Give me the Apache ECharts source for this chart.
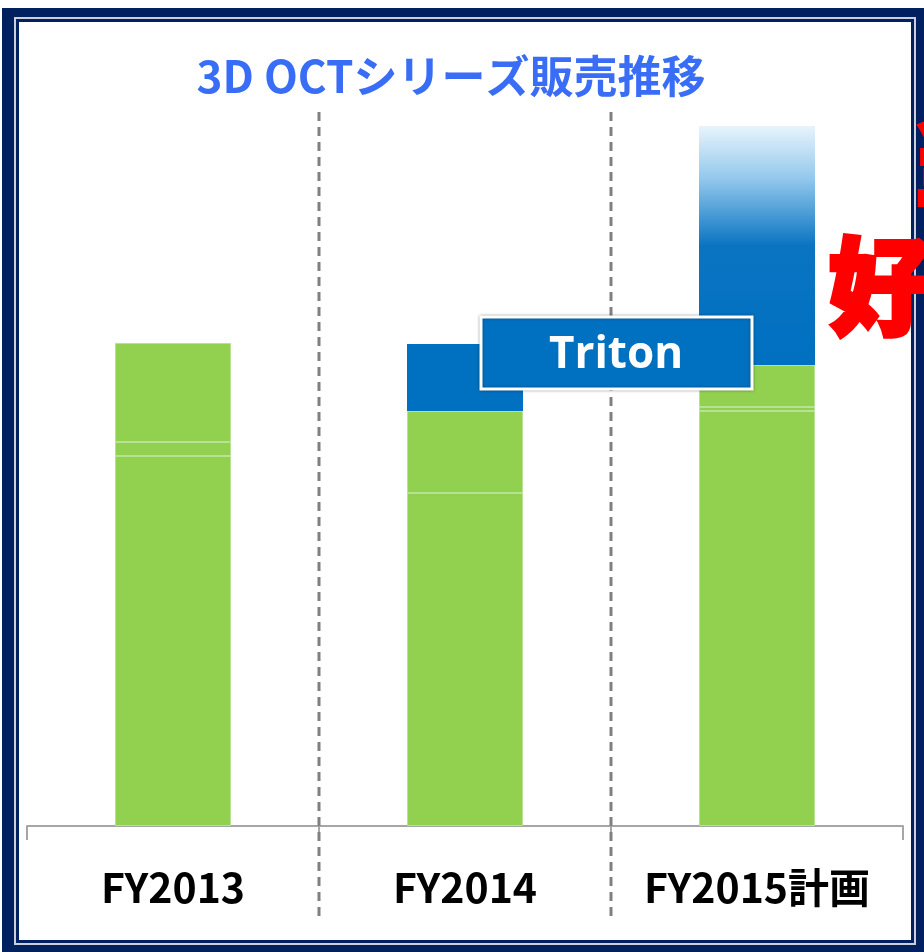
<!DOCTYPE html>
<html><head><meta charset="utf-8">
<script src="https://cdn.jsdelivr.net/npm/echarts@6/dist/echarts.min.js"></script>
<style>html,body{margin:0;padding:0;background:#fff}#c{width:924px;height:952px}</style>
</head><body><div id="c"></div>
<script>
// ---- data ----
const categories = ['FY2013', 'FY2014', 'FY2015計画'];
const greenBase = [370, 333, 415];
const greenMid = [14, 82, 4];
const greenTop = [99, null, 42];
const triton = [null, 67, 243];
const titleText = '3D OCTシリーズ販売推移';
const boxLabel = 'Triton';

const GREEN = '#92d050', GREEN_EDGE = '#b9e193', BLUE = '#0070c0', NAVY = '#002060';
const chart = echarts.init(document.getElementById('c'), null, {renderer: 'canvas'});

const fade = new echarts.graphic.LinearGradient(0, 0, 0, 1, [
  {offset: 0, color: '#e8f4fd'},
  {offset: 0.22, color: '#93c8ec'},
  {offset: 0.5, color: '#0a74c2'},
  {offset: 1, color: BLUE}
]);
const tritonData = triton.map((v, i) => i === 2 ? {value: v, itemStyle: {color: fade}} : v);

function greenSeries(name, data) {
  return {name, type: 'bar', stack: 's', data, barWidth: 116, z: 3,
    itemStyle: {color: GREEN, borderColor: GREEN_EDGE, borderWidth: 1}, silent: true};
}

const frame = [
  {type: 'rect', z: 0, shape: {x: 2, y: 8, width: 960, height: 980}, style: {fill: NAVY}},
  {type: 'rect', z: 0, shape: {x: 14, y: 17, width: 902, height: 928}, style: {fill: '#c9cfdb'}},
  {type: 'rect', z: 0, shape: {x: 16, y: 19, width: 898, height: 924}, style: {fill: NAVY}},
  {type: 'rect', z: 0, shape: {x: 19, y: 22, width: 892, height: 918}, style: {fill: '#ffffff'}}
];

chart.setOption({
  backgroundColor: '#ffffff',
  animation: false,
  grid: {left: 27, right: 21, top: 126, bottom: 126},
  xAxis: {type: 'category', data: categories, boundaryGap: true,
    axisLine: {lineStyle: {color: '#a6a6a6', width: 2}},
    axisTick: {show: true, length: 14, lineStyle: {color: '#a6a6a6', width: 2}},
    axisLabel: {color: '#000', fontSize: 41, fontWeight: 'bold', margin: 41, interval: 0, hideOverlap: false,
      fontFamily: '"Noto Sans CJK JP", "Noto Sans", sans-serif'}},
  yAxis: {type: 'value', min: 0, max: 700, show: false, splitLine: {show: false}},
  series: [
    greenSeries('base', greenBase),
    greenSeries('mid', greenMid),
    greenSeries('top', greenTop),
    {name: 'Triton', type: 'bar', stack: 's', data: tritonData, barWidth: 116, z: 3,
      itemStyle: {color: BLUE}, silent: true}
  ],
  graphic: frame
});

// separators between categories, from the axis scale
const px = categories.map(c => chart.convertToPixel({xAxisIndex: 0}, c));
const seps = [];
for (let i = 0; i < px.length - 1; i++) {
  const x = Math.round((px[i] + px[i + 1]) / 2);
  seps.push({type: 'line', z: 1, shape: {x1: x, y1: 112, x2: x, y2: 916},
    style: {stroke: '#808080', lineWidth: 3, lineDash: [9, 6]}});
}

const extras = [
  {type: 'text', z: 10, style: {text: titleText, x: 451, y: 76, align: 'center', verticalAlign: 'middle',
    fill: '#3a6df5', font: 'bold 44px "Noto Sans CJK JP", sans-serif'}},
  {type: 'rect', z: 20, shape: {x: 481, y: 317, width: 271, height: 72},
    style: {fill: BLUE, stroke: '#ffffff', lineWidth: 3, shadowBlur: 3, shadowColor: 'rgba(0,0,0,0.35)'}},
  {type: 'text', z: 21, style: {text: boxLabel, x: 616, y: 355, align: 'center', verticalAlign: 'middle',
    fill: '#ffffff', font: 'bold 44px "Open Sans", sans-serif'}},
  {type: 'text', z: 30, style: {text: '好', x: 828, y: 286, align: 'left', verticalAlign: 'middle',
    fill: '#ff0000', font: '900 106px "Noto Sans CJK JP", sans-serif', stroke: '#ff0000', lineWidth: 4}},
  {type: 'text', z: 30, style: {text: '当', x: 910, y: 163, align: 'left', verticalAlign: 'middle',
    fill: '#ff0000', font: '900 96px "Noto Sans CJK JP", sans-serif', stroke: '#ff0000', lineWidth: 4}}
];

chart.setOption({graphic: frame.concat(seps, extras)});
</script>
</body></html>
